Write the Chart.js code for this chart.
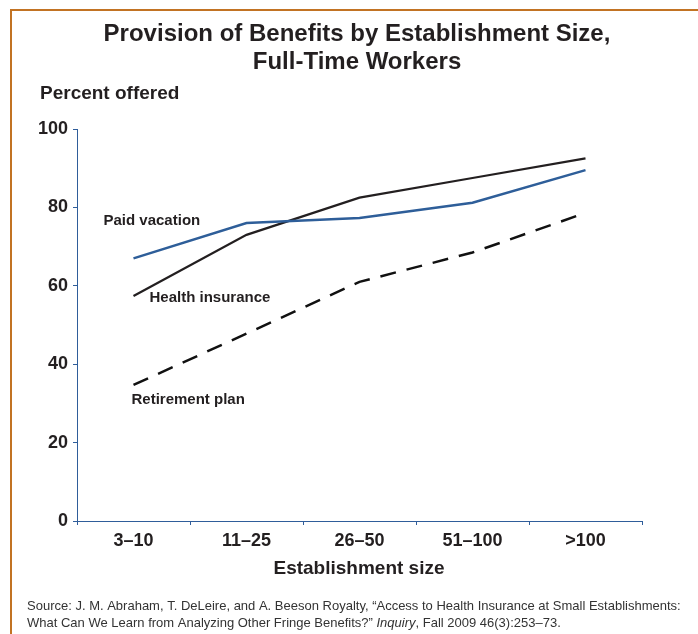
<!DOCTYPE html>
<html lang="en">
<head>
<meta charset="UTF-8">
<title>Provision of Benefits by Establishment Size</title>
<script src="https://cdn.jsdelivr.net/npm/chart.js@4.4.1/dist/chart.umd.min.js"></script>
<style>
  html, body { margin: 0; padding: 0; background: #fff; }
  #wrap { width: 698px; height: 634px; position: relative; }
</style>
</head>
<body>
<div id="wrap"><canvas id="benefitsChart"></canvas></div>
<script>
    const sizes = ['3\u201310', '11\u201325', '26\u201350', '51\u2013100', '>100'];
    const paidVacation = [67, 76, 77.3, 81.2, 89.5];
    const healthInsurance = [57.4, 73, 82.5, 87.5, 92.5];
    const retirementPlan = [34.7, 47.8, 61, 68.5, 78.6];
    const yTicks = [0, 20, 40, 60, 80, 100];

    const axisBlue = '#2f5d9a';
    const textColor = '#231f20';
    const font = '"Liberation Sans", Arial, sans-serif';

    // labels next to the lines: [text, category index, value, x shift]
    const lineLabels = [
        ['Paid vacation', 0, 76.5, -30],
        ['Health insurance', 0, 56.9, 16],
        ['Retirement plan', 0, 30.9, -2]
    ];

    const textPlugin = {
        id: 'texts',
        afterDraw(chart) {
            const ctx = chart.ctx;
            const x = chart.scales.x;
            const y = chart.scales.y;
            ctx.save();
            // frame
            ctx.strokeStyle = '#c27323';
            ctx.lineWidth = 2;
            ctx.beginPath();
            ctx.moveTo(11, 634);
            ctx.lineTo(11, 10);
            ctx.lineTo(698, 10);
            ctx.stroke();

            ctx.fillStyle = textColor;
            ctx.textBaseline = 'middle';
            ctx.textAlign = 'center';
            ctx.font = 'bold 24px ' + font;
            ctx.fillText('Provision of Benefits by Establishment Size,', 357, 34);
            ctx.fillText('Full-Time Workers', 357, 62);

            ctx.font = 'bold 19px ' + font;
            ctx.fillText('Establishment size', 359, 569);

            ctx.textAlign = 'left';
            ctx.fillText('Percent offered', 40, 94);

            ctx.font = 'bold 15px ' + font;
            lineLabels.forEach(l => {
                ctx.fillText(l[0], x.getPixelForValue(l[1]) + l[3], y.getPixelForValue(l[2]));
            });

            ctx.fillStyle = '#333';
            ctx.font = '13px ' + font;
            ctx.fillText('Source: J. M. Abraham, T. DeLeire, and A. Beeson Royalty, \u201cAccess to Health Insurance at Small Establishments:', 27, 606);
            const line2a = 'What Can We Learn from Analyzing Other Fringe Benefits?\u201d ';
            ctx.fillText(line2a, 27, 623);
            let w = ctx.measureText(line2a).width;
            ctx.font = 'italic 13px ' + font;
            ctx.fillText('Inquiry', 27 + w, 623);
            w += ctx.measureText('Inquiry').width;
            ctx.font = '13px ' + font;
            ctx.fillText(', Fall 2009 46(3):253\u201373.', 27 + w, 623);
            ctx.restore();
        }
    };

    new Chart(document.getElementById('benefitsChart'), {
        type: 'line',
        data: {
            labels: sizes,
            datasets: [
                {
                    label: 'Paid vacation',
                    data: paidVacation,
                    borderColor: '#2e5e99',
                    borderWidth: 2.5,
                    pointRadius: 0,
                    tension: 0
                },
                {
                    label: 'Health insurance',
                    data: healthInsurance,
                    borderColor: '#231f20',
                    borderWidth: 2.2,
                    pointRadius: 0,
                    tension: 0
                },
                {
                    label: 'Retirement plan',
                    data: retirementPlan,
                    borderColor: '#111',
                    borderWidth: 2.5,
                    borderDash: [16, 11],
                    pointRadius: 0,
                    tension: 0
                }
            ]
        },
        options: {
            responsive: true,
            maintainAspectRatio: false,
            animation: false,
            layout: { padding: { top: 129, right: 56, left: 0, bottom: 0 } },
            plugins: {
                legend: { display: false },
                tooltip: { enabled: false }
            },
            scales: {
                x: {
                    offset: true,
                    grid: { drawOnChartArea: false, offset: true, tickLength: 4, color: axisBlue, tickColor: axisBlue },
                    border: { color: axisBlue, width: 1 },
                    ticks: { color: textColor, padding: 5, font: { family: font, size: 18, weight: 'bold' } },
                    afterFit: s => { s.height = 113; }
                },
                y: {
                    min: 0,
                    max: 100,
                    afterBuildTicks: s => { s.ticks = yTicks.map(v => ({ value: v })); },
                    grid: { drawOnChartArea: false, tickLength: 4, color: axisBlue, tickColor: axisBlue },
                    border: { color: axisBlue, width: 1 },
                    ticks: { color: textColor, padding: 5, font: { family: font, size: 18, weight: 'bold' } },
                    afterFit: s => { s.width = 77; }
                }
            }
        },
        plugins: [textPlugin]
    });
</script>
</body>
</html>
